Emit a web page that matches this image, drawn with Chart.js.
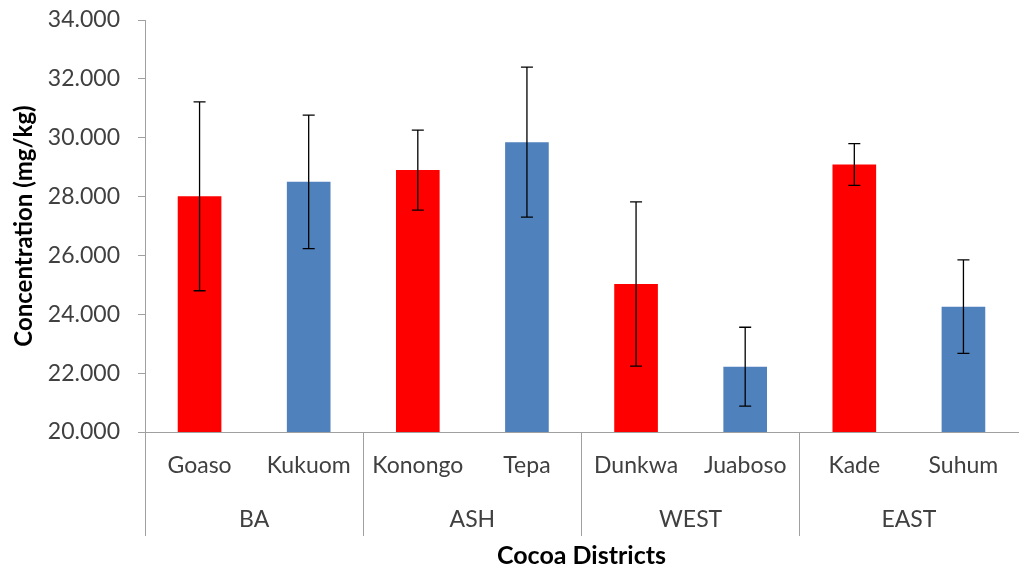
<!DOCTYPE html>
<html>
<head>
<meta charset="utf-8">
<title>Concentration by Cocoa District</title>
<script src="https://cdn.jsdelivr.net/npm/chart.js@4.4.1/dist/chart.umd.min.js"></script>
<style>
  html, body { margin: 0; padding: 0; background: #ffffff; }
  #chart { display: block; }
</style>
</head>
<body>
<canvas id="chart" width="1019" height="571"></canvas>
<script>
// Districts (inner axis level) and the regions they belong to (outer level)
const districts = ['Goaso', 'Kukuom', 'Konongo', 'Tepa', 'Dunkwa', 'Juaboso', 'Kade', 'Suhum'];
const regions = ['BA', 'ASH', 'WEST', 'EAST'];

// Mean concentration (mg/kg) and error bar half-length per district
const meanConc = [28.01, 28.50, 28.90, 29.85, 25.03, 22.22, 29.09, 24.26];
const errConc = [3.21, 2.27, 1.36, 2.55, 2.79, 1.34, 0.71, 1.59];

// Value axis range
const yMin = 20;
const yMax = 34;
const yStep = 2;

const RED = '#FF0000';
const BLUE = '#4F81BD';
const AXIS_GREY = '#A0A0A0';
const TEXT = '#404040';
const FONT = 'Lato, "Open Sans", sans-serif';

const barColors = districts.map((_, i) => (i % 2 === 0 ? RED : BLUE));

// Symmetric error bars with caps, positioned from the bar elements and y scale
const errorBars = {
  id: 'errorBars',
  afterDatasetsDraw(chart) {
    const meta = chart.getDatasetMeta(0);
    const y = chart.scales.y;
    const ctx = chart.ctx;
    ctx.save();
    ctx.strokeStyle = '#000000';
    ctx.lineWidth = 1.3;
    meta.data.forEach((bar, i) => {
      const hi = y.getPixelForValue(meanConc[i] + errConc[i]);
      const lo = y.getPixelForValue(meanConc[i] - errConc[i]);
      const cap = 6;
      ctx.beginPath();
      ctx.moveTo(bar.x, hi); ctx.lineTo(bar.x, lo);
      ctx.moveTo(bar.x - cap, hi); ctx.lineTo(bar.x + cap, hi);
      ctx.moveTo(bar.x - cap, lo); ctx.lineTo(bar.x + cap, lo);
      ctx.stroke();
    });
    ctx.restore();
  }
};

new Chart(document.getElementById('chart'), {
  type: 'bar',
  data: {
    labels: districts,
    datasets: [{
      data: meanConc,
      backgroundColor: barColors,
      borderWidth: 0,
      barPercentage: 0.4,
      categoryPercentage: 1.0
    }]
  },
  options: {
    responsive: false,
    animation: false,
    devicePixelRatio: 1,
    layout: { padding: { top: 20, right: 1, left: 0, bottom: 0 } },
    plugins: {
      legend: { display: false },
      tooltip: { enabled: false }
    },
    scales: {
      x: {
        type: 'category',
        position: 'bottom',
        weight: 0,
        offset: true,
        grid: {
          offset: true,
          drawOnChartArea: false,
          drawTicks: true,
          tickLength: 104,
          lineWidth: 1,
          // only the region boundaries get a separator line
          color: (c) => (typeof c.index === 'number' && c.index % 2 === 0 ? AXIS_GREY : 'rgba(0,0,0,0)')
        },
        border: { display: true, color: AXIS_GREY, width: 1 },
        ticks: {
          color: TEXT,
          font: { family: FONT, size: 23 },
          padding: -84,
          maxRotation: 0,
          autoSkip: false
        },
        afterFit: (s) => { s.height = 60; }
      },
      xRegion: {
        type: 'category',
        axis: 'x',
        position: 'bottom',
        weight: 1,
        labels: regions,
        offset: true,
        grid: { display: false, drawTicks: false },
        border: { display: false },
        ticks: {
          color: TEXT,
          font: { family: FONT, size: 23 },
          padding: 14,
          maxRotation: 0,
          autoSkip: false
        },
        title: {
          display: true,
          text: 'Cocoa Districts',
          color: '#000000',
          font: { family: FONT, size: 25, weight: 'bold' },
          padding: { top: 0, bottom: 0 }
        },
        afterFit: (s) => { s.height = 79; }
      },
      y: {
        min: yMin,
        max: yMax,
        grid: {
          drawOnChartArea: false,
          drawTicks: true,
          tickLength: 7,
          color: AXIS_GREY
        },
        border: { display: true, color: AXIS_GREY, width: 1 },
        ticks: {
          stepSize: yStep,
          color: TEXT,
          font: { family: FONT, size: 23 },
          padding: 18,
          callback: (v) => Number(v).toFixed(3)
        },
        title: {
          display: true,
          text: 'Concentration (mg/kg)',
          color: '#000000',
          font: { family: FONT, size: 24, weight: 'bold' },
          padding: { top: 10, bottom: 10 }
        },
        afterFit: (s) => {
          s.width = 145;
          // plot area edges are set by the layout padding alone
          s.paddingTop = 0;
          s.paddingBottom = 0;
        }
      }
    }
  },
  plugins: [errorBars]
});
</script>
</body>
</html>
